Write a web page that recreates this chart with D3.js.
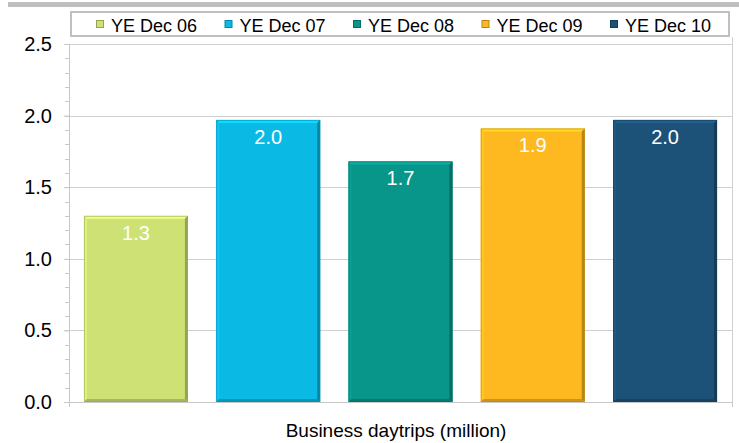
<!DOCTYPE html>
<html>
<head>
<meta charset="utf-8" />
<title>Business daytrips</title>
<script src="https://d3js.org/d3.v7.min.js"></script>
<style>
  body { margin: 0; background: #fff; }
  svg text { font-family: "Liberation Sans", Arial, sans-serif; }
</style>
</head>
<body>
<div id="chart"></div>
<script>
// data
var periods = ["YE Dec 06", "YE Dec 07", "YE Dec 08", "YE Dec 09", "YE Dec 10"];
var values = [1.30, 1.97, 1.68, 1.91, 1.97];
var labels = ["1.3", "2.0", "1.7", "1.9", "2.0"];
var colors = ["#cde174", "#0abae4", "#08968a", "#fdb91f", "#1d5278"];
var yTicks = [0, 0.5, 1.0, 1.5, 2.0, 2.5];

var W = 739, H = 443;
var margin = {top: 44, right: 7, bottom: 41, left: 69};
var width = W - margin.left - margin.right,
    height = H - margin.top - margin.bottom;

var svg = d3.select("#chart").append("svg")
    .attr("width", W)
    .attr("height", H);

// grey strip across the top
svg.append("rect")
    .attr("x", 8).attr("y", 2)
    .attr("width", W - 8).attr("height", 5)
    .style("fill", "#bfbfbf");

var x = d3.scaleBand()
    .domain(periods)
    .range([0, width])
    .paddingInner(0.214)
    .paddingOuter(0.113);

var y = d3.scaleLinear()
    .domain([0, 2.5])
    .range([height, 0]);

var g = svg.append("g")
    .attr("transform", "translate(" + margin.left + "," + margin.top + ")");

// gridlines
g.selectAll(".grid")
    .data(yTicks.slice(1))
    .enter().append("line")
    .attr("class", "grid")
    .attr("x1", 0).attr("x2", width)
    .attr("y1", function(d) { return Math.round(y(d)) + 0.5; })
    .attr("y2", function(d) { return Math.round(y(d)) + 0.5; })
    .style("stroke", "#d0d0d0");

// right border
g.append("line")
    .attr("x1", width + 0.5).attr("x2", width + 0.5)
    .attr("y1", -7).attr("y2", height)
    .style("stroke", "#d0d0d0");

// y axis: major ticks with labels, minor ticks
var yAxis = d3.axisLeft(y)
    .tickValues(yTicks)
    .tickFormat(d3.format(".1f"))
    .tickSize(5)
    .tickPadding(12);
var ya = g.append("g").attr("class", "y axis").call(yAxis);
ya.select(".domain").style("stroke", "#c8c8c8");
ya.selectAll(".tick line").style("stroke", "#c8c8c8");
ya.selectAll("text")
    .style("font-size", "20px")
    .style("fill", "#000");

var minor = d3.range(0, 2.5001, 0.1);
g.selectAll(".minor")
    .data(minor)
    .enter().append("line")
    .attr("class", "minor")
    .attr("x1", -4).attr("x2", 0)
    .attr("y1", function(d) { return Math.round(y(d)) + 0.5; })
    .attr("y2", function(d) { return Math.round(y(d)) + 0.5; })
    .style("stroke", "#c8c8c8");

// x axis baseline
g.append("line")
    .attr("x1", 0).attr("x2", width)
    .attr("y1", height + 0.5).attr("y2", height + 0.5)
    .style("stroke", "#c8c8c8");
g.append("line")
    .attr("x1", 0.5).attr("x2", 0.5)
    .attr("y1", height).attr("y2", height + 5)
    .style("stroke", "#c8c8c8");
g.append("line")
    .attr("x1", width + 0.5).attr("x2", width + 0.5)
    .attr("y1", height).attr("y2", height + 5)
    .style("stroke", "#c8c8c8");

// bars
var bw = x.bandwidth(), bev = 3;
var bars = g.selectAll(".bar")
    .data(periods)
    .enter().append("g")
    .attr("class", "bar")
    .attr("transform", function(d, i) { return "translate(" + x(d) + "," + y(values[i]) + ")"; });

function bh(i) { return height - y(values[i]); }

bars.append("rect")
    .attr("width", bw)
    .attr("height", function(d, i) { return bh(i); })
    .style("fill", function(d, i) { return colors[i]; });

// bevel edges
bars.append("polygon") // top
    .attr("points", function() { return [[0,0],[bw,0],[bw-bev,bev],[bev,bev]].join(" "); })
    .style("fill", function(d, i) { return d3.color(colors[i]).brighter(0.45); });
bars.append("polygon") // left
    .attr("points", function(d, i) { return [[0,0],[bev,bev],[bev,bh(i)-bev],[0,bh(i)]].join(" "); })
    .style("fill", function(d, i) { return d3.color(colors[i]).brighter(0.2); });
bars.append("polygon") // right
    .attr("points", function(d, i) { return [[bw,0],[bw,bh(i)],[bw-bev,bh(i)-bev],[bw-bev,bev]].join(" "); })
    .style("fill", function(d, i) { return d3.color(colors[i]).darker(0.9); });
bars.append("polygon") // bottom
    .attr("points", function(d, i) { return [[0,bh(i)],[bw,bh(i)],[bw-bev,bh(i)-bev],[bev,bh(i)-bev]].join(" "); })
    .style("fill", function(d, i) { return d3.color(colors[i]).darker(0.6); });
bars.append("rect")
    .attr("x", 0.5).attr("y", 0.5)
    .attr("width", bw - 1)
    .attr("height", function(d, i) { return bh(i) - 1; })
    .style("fill", "none")
    .style("stroke", function(d, i) { return d3.color(colors[i]).darker(0.8); })
    .style("stroke-opacity", 0.6);

bars.append("text")
    .attr("x", bw / 2)
    .attr("y", 24)
    .attr("text-anchor", "middle")
    .style("font-size", "20px")
    .style("fill", "#fff")
    .text(function(d, i) { return labels[i]; });

// x axis title
svg.append("text")
    .attr("x", 396)
    .attr("y", 437)
    .attr("text-anchor", "middle")
    .style("font-size", "19px")
    .style("fill", "#000")
    .text("Business daytrips (million)");

// legend
var legend = svg.append("g").attr("class", "legend");
legend.append("rect")
    .attr("x", 71).attr("y", 12)
    .attr("width", 658).attr("height", 24)
    .style("fill", "#fff")
    .style("stroke", "#c0c0c0")
    .style("stroke-width", 2);

var legX = d3.scalePoint()
    .domain(periods)
    .range([96, 610]);

var items = legend.selectAll(".item")
    .data(periods)
    .enter().append("g")
    .attr("class", "item")
    .attr("transform", function(d) { return "translate(" + legX(d) + ",20)"; });

items.append("rect")
    .attr("x", 0.5).attr("y", 0.5)
    .attr("width", 7).attr("height", 7)
    .style("fill", function(d, i) { return colors[i]; })
    .style("stroke", function(d, i) { return d3.color(colors[i]).darker(0.9); });

items.append("text")
    .attr("x", 15)
    .attr("y", 12)
    .style("font-size", "18px")
    .style("fill", "#000")
    .text(function(d) { return d; });
</script>
</body>
</html>
